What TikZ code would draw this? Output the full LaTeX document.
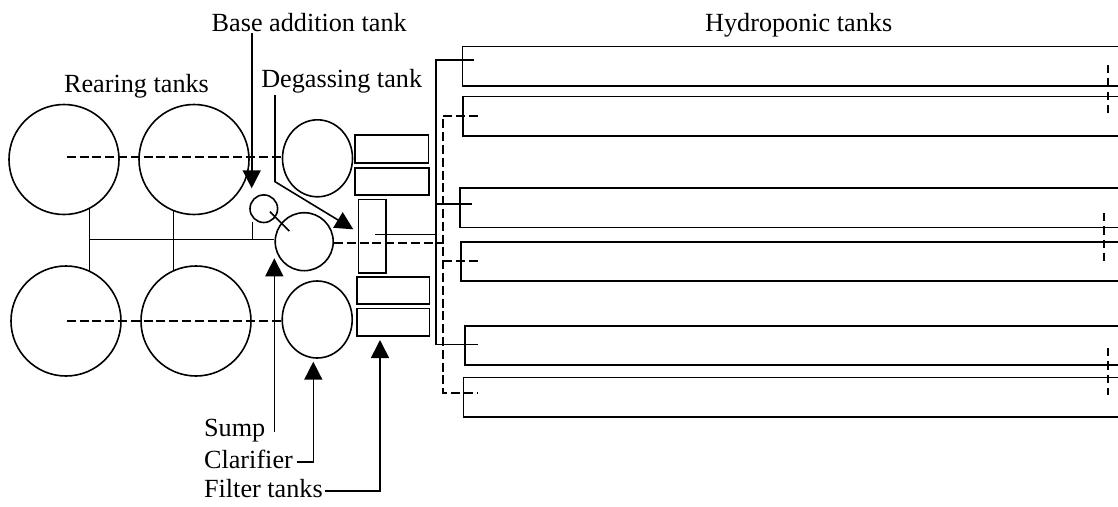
\documentclass[tikz,border=0pt]{standalone}
\usepackage{fontspec}
\setmainfont{Liberation Serif}
\usetikzlibrary{arrows.meta,shapes.geometric,calc,backgrounds}
\begin{document}
\begin{tikzpicture}[x=1pt,y={(0,-1pt)},line width=1.6pt,
  lbl/.style={font=\fontsize{26.2}{30}\selectfont,inner sep=0pt,anchor=base},
  lblw/.style={lbl,anchor=base west},
  tank/.style={circle,draw,fill=white,minimum size=110pt,inner sep=0pt},
  oval/.style={ellipse,draw,fill=white,minimum width=70pt,minimum height=77pt,inner sep=0pt},
  box/.style={rectangle,draw,inner sep=0pt},
  hydro/.style={rectangle,draw,inner sep=0pt,anchor=north west,minimum width=720pt,minimum height=39.3pt},
  pipe/.style={line width=2pt,dash pattern=on 9pt off 3.8pt},
  overflowmark/.style={line width=2pt,dash pattern=on 8.3pt off 5pt},
  arr/.style={-{Triangle[length=18pt,width=18pt]}}]
\useasboundingbox (0,0) rectangle (1118,506);
\clip (0,0) rectangle (1118,506);

% rearing tanks
\node[tank] (r1) at (64,159.5) {};
\node[tank] (r2) at (194,159.5) {};
\node[tank] (r3) at (66,321) {};
\node[tank] (r4) at (196,321) {};

% other tanks
\node[oval] (deg) at (317.5,158.3) {};
\node[oval] (clar) at (317.2,319.5) {};
\node[circle,draw,fill=white,minimum size=58pt,inner sep=0pt] (sump) at (304.2,241.7) {};
\node[circle,draw,fill=white,minimum size=27.6pt,inner sep=0pt] (base) at (263.8,208.7) {};

\node[box,minimum width=73.3pt,minimum height=27.7pt] (f1) at (391.7,148.85) {};
\node[box,minimum width=74pt,minimum height=27.3pt] (f2) at (392,181.35) {};
\node[box,minimum width=72.6pt,minimum height=27.3pt] (f3) at (393,290.35) {};
\node[box,minimum width=72.6pt,minimum height=27.7pt] (f4) at (393,322.15) {};
\node[box,minimum width=27.7pt,minimum height=73.4pt] (tall) at (372.15,236) {};

% hydroponic tanks
\node[hydro] (h1) at (461.7,45.7) {};
\node[hydro] (h2) at (462,95.7) {};
\node[hydro] (h3) at (459,187.3) {};
\node[hydro] (h4) at (460.3,241) {};
\node[hydro] (h5) at (464.3,325) {};
\node[hydro] (h6) at (462.7,376.7) {};

% background solid piping
\begin{scope}[on background layer]
\draw ($(r1)+(25.3,0)$) -- ($(r3)+(23.3,0)$);
\draw ($(r2)+(-20.7,0)$) -- ($(r4)+(-22.7,0)$);
\draw ($(r1)+(25.3,79.5)$) -- ($(sump.west)+(0,-2.7)$);
\end{scope}
\draw ($(base)+(-11.5,13)$) -- ($(base)+(-11.5,30.3)$);
\draw ($(base)+(6.2,3)$) -- ($(base)+(25.5,22.3)$);

% dashed piping
\draw[pipe] ($(r1)+(2.7,-2.8)$) -- ($(deg.west)+(0,-1.6)$);
\draw[pipe] ($(r3)+(0.7,-0.3)$) -- ($(clar.west)+(0,1.2)$);

% manifolds
\coordinate (sv1) at (435.7,60);
\coordinate (sv3) at (435.7,204);
\coordinate (sv5) at (435.7,344.3);
\coordinate (sj) at (435.7,234.3);
\coordinate (dv2) at (443.3,115.7);
\coordinate (dv4) at (443.3,260.7);
\coordinate (dv6) at (443.3,393.3);
\coordinate (dj) at (443.3,242.7);
\coordinate (b1) at (474,60);
\coordinate (b3) at (471.7,204);
\coordinate (b5) at (478,344.3);
\coordinate (e2) at (478,115.7);
\coordinate (e4) at (479,260.7);
\coordinate (e6) at (478,393.3);

\draw ($(tall.center)+(2.85,-1.7)$) -- (sj);
\draw (b1) -- (sv1) -- (sv5) -- (b5);
\draw (sv3) -- (b3);
\draw[pipe] ($(sump.east)+(0,1)$) -- (dj);
\draw[pipe] (e2) -- (dv2) -- (dv6) -- (e6);
\draw[pipe] (dv4) -- (e4);

% right-side overflow marks
\draw[overflowmark] (1107.7,65) -- (1107.7,113);
\draw[overflowmark] (1104,213) -- (1104,263);
\draw[overflowmark] (1107.7,348) -- (1107.7,395);

% labels
\node[lbl] (bat) at (309.2,31.7) {Base addition tank};
\node[lbl] (rt) at (136.5,92.7) {Rearing tanks};
\node[lbl] (dt) at (341.7,87.3) {Degassing tank};
\node[lbl] (ht) at (798.7,31.7) {Hydroponic tanks};
\node[lblw] (sl) at (203.3,436.7) {Sump};
\node[lblw] (cl) at (203.3,468.3) {Clarifier};
\node[lblw] (ftl) at (203.3,497.3) {Filter tanks};

% arrows
\coordinate (btip) at (251.7,188.3);
\draw[arr] (bat.south -| btip) -- (btip);
\coordinate (dc) at (275,181.7);
\coordinate (dtip) at (353.3,229.3);
\draw[arr] (275,95) -- (dc) -- (dtip);
\coordinate (stip) at (274.3,258.3);
\coordinate (sfoot) at (274.3,431.7);
\draw[arr] (sfoot) -- (stip);
\coordinate (ctip) at (313.3,361.7);
\draw[arr] ($(cl.base east)+(3,-6.6)$) -| (ctip);
\coordinate (ftip) at (380,340);
\draw[arr] ($(ftl.base east)+(1.5,-6.3)$) -| (ftip);
\end{tikzpicture}
\end{document}
